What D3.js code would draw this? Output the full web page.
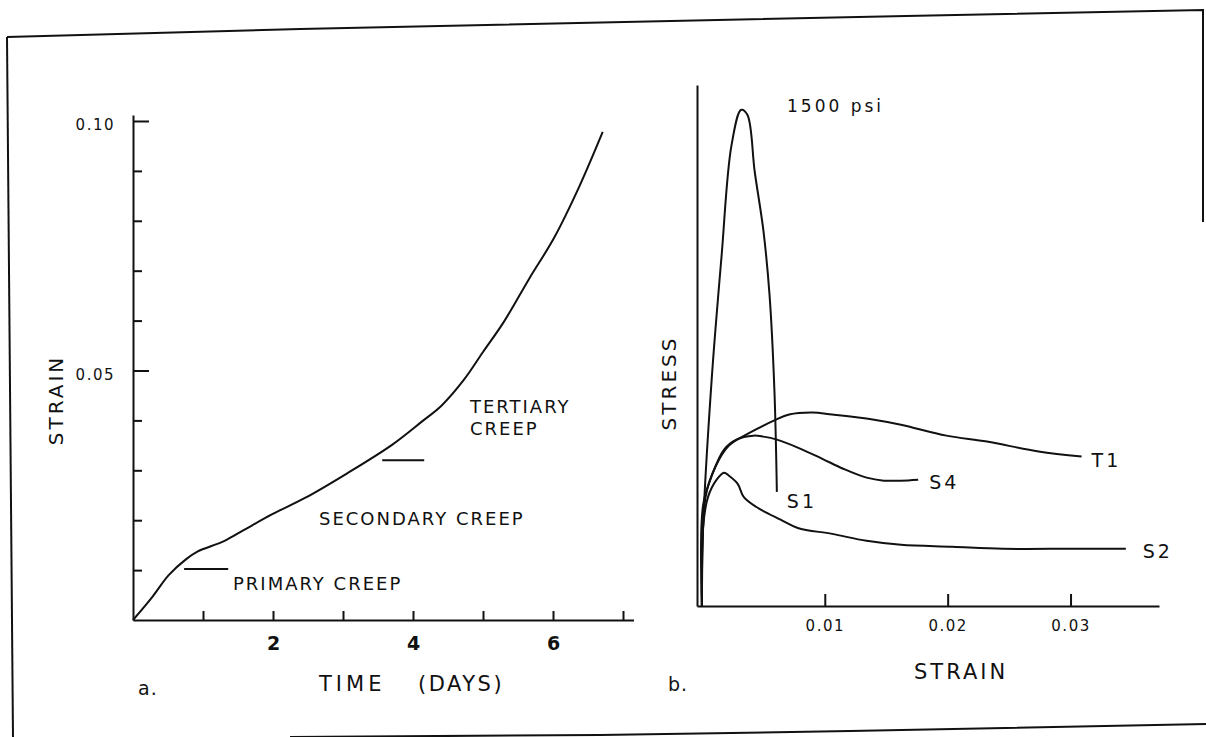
<!DOCTYPE html>
<html><head><meta charset="utf-8">
<script src="https://cdn.jsdelivr.net/npm/d3@7"></script>
<style>
html,body{margin:0;padding:0;background:#fff;}
svg{display:block;font-family:"DejaVu Sans",sans-serif;}
text{fill:#111;white-space:pre;}
</style></head><body>
<svg id="chart" width="1206" height="737"></svg>
<script>
// ---------- Panel a: creep curve (strain vs time in days) ----------
const creepDays   = [0, 0.28, 0.51, 0.76, 0.92, 1.30, 1.58, 1.99, 2.45, 3.06, 3.70, 4.13, 4.41, 4.72, 5.00, 5.30, 5.66, 6.02, 6.38, 6.71];
const creepStrain = [0, 0.0047, 0.0090, 0.0122, 0.0137, 0.0158, 0.0180, 0.0212, 0.0244, 0.0294, 0.0351, 0.0398, 0.0430, 0.0480, 0.0537, 0.0598, 0.0684, 0.0767, 0.0870, 0.0978];
const timeTicks   = [1, 2, 3, 4, 5, 6, 7];
const timeLabels  = [2, 4, 6];
const strainTicks = [0.01, 0.02, 0.03, 0.04, 0.05, 0.06, 0.07, 0.08, 0.09, 0.10];
const strainLabels = [0.05, 0.10];

// ---------- Panel b: stress-strain curves ----------
const s1Strain = [0, 0.0001, 0.0008, 0.0016, 0.0024, 0.0032, 0.0037, 0.0043, 0.0050, 0.0055, 0.0059, 0.0061];
const s1Stress = [0, 240, 688, 1058, 1391, 1500, 1485, 1312, 1136, 942, 652, 345];
const t1Strain = [0, 0.0003, 0.0011, 0.0022, 0.0039, 0.0059, 0.0071, 0.0090, 0.0106, 0.0139, 0.0162, 0.0199, 0.0232, 0.0274, 0.0309];
const t1Stress = [0, 330, 421, 485, 524, 561, 579, 585, 579, 564, 548, 515, 497, 467, 452];
const s4Strain = [0, 0.0001, 0.0008, 0.0018, 0.0028, 0.0042, 0.0050, 0.0061, 0.0078, 0.0098, 0.0115, 0.0134, 0.0148, 0.0162, 0.0176];
const s4Stress = [0, 306, 394, 473, 503, 515, 512, 503, 479, 445, 415, 388, 379, 379, 382];
const s2Strain = [0, 0.0001, 0.0005, 0.0012, 0.0018, 0.0022, 0.0029, 0.0034, 0.0044, 0.0064, 0.0078, 0.0106, 0.0134, 0.0162, 0.0204, 0.0245, 0.0302, 0.0345];
const s2Stress = [0, 240, 330, 382, 403, 394, 370, 330, 300, 261, 236, 218, 197, 185, 179, 173, 173, 173];
const seriesNames = ["S1", "T1", "S4", "S2"];
const bStrainTicks = [0.01, 0.02, 0.03];
const peakLabel = "1500 psi";

const svg = d3.select("#chart");
const ink = "#111";

// ---- scanned sheet frame ----
const frame = svg.append("g").attr("fill", "none").attr("stroke", ink).attr("stroke-width", 2);
frame.append("path").attr("d", "M7,37 L300,29 L906,16 L1203,10 L1203,222");
frame.append("path").attr("d", "M7,37 L13,737");
frame.append("path").attr("d", "M290,737 L600,735 L850,731 L1206,724");

function styleAxis(g, size, weight, spacing) {
  g.selectAll("path,line").attr("stroke", ink).attr("stroke-width", 2);
  g.selectAll("text").attr("font-family", "DejaVu Sans, sans-serif")
    .attr("font-size", size).attr("font-weight", weight || "normal")
    .attr("letter-spacing", spacing || 0).attr("fill", ink);
}

// ======================= Panel a =======================
const xA = d3.scaleLinear().domain([0, 7.15]).range([133, 633.5]);
const yA = d3.scaleLinear().domain([0, 0.1012]).range([620, 115]);

const gxA = svg.append("g").attr("transform", `translate(0,${yA(0)})`)
  .call(d3.axisBottom(xA).tickValues(timeTicks).tickSize(-9).tickSizeOuter(0).tickPadding(17)
    .tickFormat(d => timeLabels.includes(d) ? String(d) : ""));
styleAxis(gxA, 19, 600, 0);

const gyA = svg.append("g").attr("transform", `translate(${xA(0)},0)`)
  .call(d3.axisLeft(yA).tickValues(strainTicks).tickSize(-9).tickSizeOuter(0).tickPadding(18)
    .tickFormat(d => strainLabels.some(v => Math.abs(v - d) < 1e-9) ? d3.format(".2f")(d) : ""));
styleAxis(gyA, 15, "normal", 1.5);
gyA.selectAll(".tick").filter(d => strainLabels.some(v => Math.abs(v - d) < 1e-9))
  .select("line").attr("x2", 16);
gyA.selectAll("text").attr("dy", "0.6em");

const creepData = creepDays.map((d, i) => [d, creepStrain[i]]);
svg.append("path").datum(creepData)
  .attr("fill", "none").attr("stroke", ink).attr("stroke-width", 2)
  .attr("d", d3.line().x(d => xA(d[0])).y(d => yA(d[1])).curve(d3.curveCatmullRom.alpha(0.5)));

// stage markers
const markers = [[0.73, 1.36, 0.0102], [3.56, 4.16, 0.0320]];
markers.forEach(m => {
  svg.append("line").attr("x1", xA(m[0])).attr("x2", xA(m[1]))
    .attr("y1", yA(m[2])).attr("y2", yA(m[2])).attr("stroke", ink).attr("stroke-width", 2);
});

const lbl = (x, y, t, size, spacing, anchor) => svg.append("text")
  .attr("x", x).attr("y", y).attr("font-size", size).attr("letter-spacing", spacing)
  .attr("text-anchor", anchor || "start").attr("dominant-baseline", "central").text(t);

lbl(470, 406, "TERTIARY", 18, 2);
lbl(470, 428, "CREEP", 18, 2);
lbl(319, 518, "SECONDARY CREEP", 18, 2);
lbl(233, 583, "PRIMARY CREEP", 18, 2);
lbl(319, 684, "TIME", 21, 4);
lbl(418, 684, "(DAYS)", 21, 2.5);
lbl(138, 688, "a.", 19, 1);
svg.append("text").attr("transform", "translate(56,400) rotate(-90)")
  .attr("text-anchor", "middle").attr("dominant-baseline", "central")
  .attr("font-size", 20).attr("letter-spacing", 3).text("STRAIN");

// ======================= Panel b =======================
const xB = d3.scaleLinear().domain([-0.0004, 0.0372]).range([697, 1159]);
const yB = d3.scaleLinear().domain([0, 1575]).range([606, 85]);

const gxB = svg.append("g").attr("transform", `translate(0,${yB(0)})`)
  .call(d3.axisBottom(xB).tickValues(bStrainTicks).tickSize(-12).tickSizeOuter(0).tickPadding(14)
    .tickFormat(d3.format(".2f")));
styleAxis(gxB, 15, "normal", 1.5);

const gyB = svg.append("g").attr("transform", `translate(${xB(-0.0004)},0)`)
  .call(d3.axisLeft(yB).tickValues([]).tickSizeOuter(0));
styleAxis(gyB, 15);

const series = [
  [s1Strain, s1Stress, [10, 9]],
  [t1Strain, t1Stress, [10, 4]],
  [s4Strain, s4Stress, [11, 2]],
  [s2Strain, s2Stress, [17, 2]]
];
const lineB = d3.line().x(d => xB(d[0])).y(d => yB(d[1])).curve(d3.curveCatmullRom.alpha(0.5));
series.forEach((s, i) => {
  const data = s[0].map((v, j) => [v, s[1][j]]);
  svg.append("path").datum(data).attr("fill", "none").attr("stroke", ink).attr("stroke-width", 2).attr("d", lineB);
  const last = data[data.length - 1];
  lbl(xB(last[0]) + s[2][0], yB(last[1]) + s[2][1], seriesNames[i], 19, 3);
});

lbl(787, 106, peakLabel, 17, 3);
svg.append("text").attr("transform", "translate(669,383) rotate(-90)")
  .attr("text-anchor", "middle").attr("dominant-baseline", "central")
  .attr("font-size", 20).attr("letter-spacing", 3).text("STRESS");
lbl(914, 672, "STRAIN", 21, 3);
lbl(668, 684, "b.", 19, 1);
</script>
</body></html>
